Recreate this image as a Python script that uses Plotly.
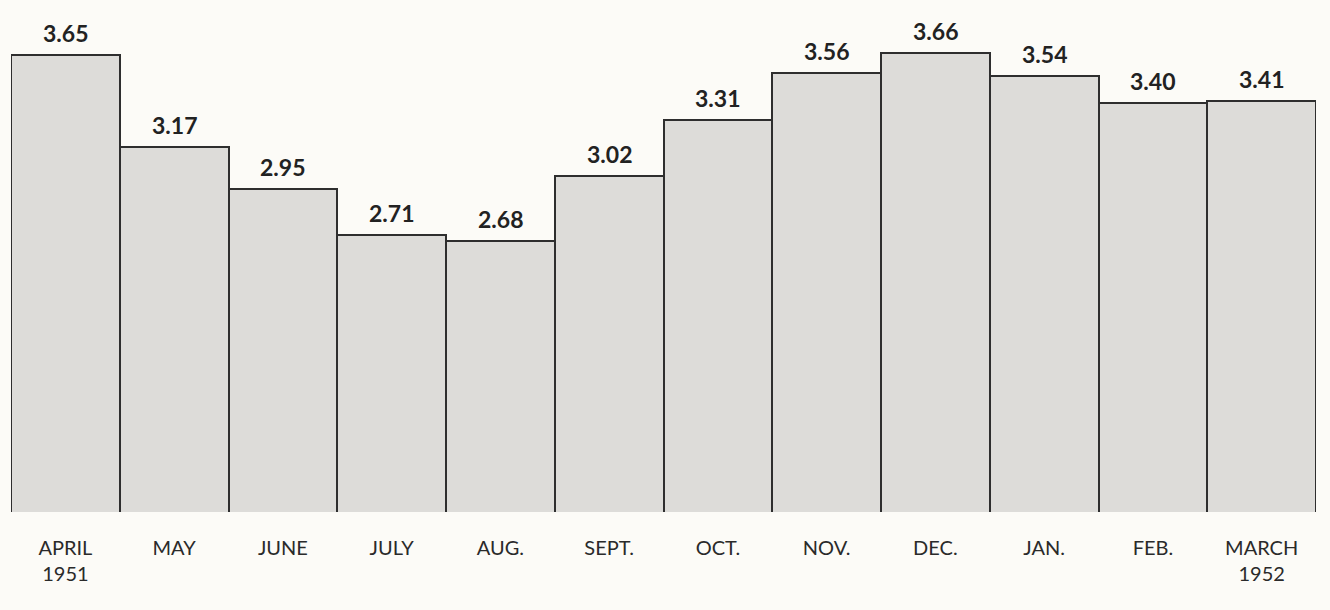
import plotly.graph_objects as go

months = ["APRIL<br>1951", "MAY", "JUNE", "JULY", "AUG.", "SEPT.", "OCT.",
          "NOV.", "DEC.", "JAN.", "FEB.", "MARCH<br>1952"]
values = [3.65, 3.17, 2.95, 2.71, 2.68, 3.02, 3.31, 3.56, 3.66, 3.54, 3.40, 3.41]
value_labels = [f"{v:.2f}" for v in values]

bg = "#fcfbf7"

fig = go.Figure(go.Bar(
    x=months, y=values,
    marker=dict(color="#dddcd9", line=dict(color="#2e2e2e", width=2)),
    hoverinfo="skip",
))

for m, v, t in zip(months, values, value_labels):
    fig.add_annotation(
        x=m, y=v, text=t, showarrow=False, yanchor="bottom", yshift=6,
        font=dict(family="Lato", size=23, color="#222222", weight="bold"),
    )

fig.update_layout(
    width=1330, height=610,
    margin=dict(l=11, r=14, t=0, b=98),
    paper_bgcolor=bg, plot_bgcolor=bg,
    bargap=0, showlegend=False,
)
fig.update_xaxes(
    showgrid=False, showline=False, zeroline=False, ticks="",
    tickfont=dict(family="Lato", size=20, color="#2a2a2a"),
    ticklabelstandoff=22,
)
fig.update_yaxes(range=[1.258, 3.94], visible=False, showgrid=False, zeroline=False)

fig.write_html(
    "out.html",
    config={"displayModeBar": False},
    post_script="document.body.style.margin='0';document.body.style.background='%s';" % bg,
)
